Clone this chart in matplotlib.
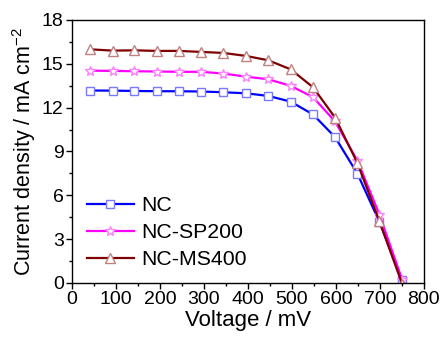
import matplotlib
matplotlib.use('Agg')
import matplotlib.pyplot as plt
from matplotlib.ticker import MultipleLocator

plt.rcParams['font.family'] = ['Liberation Sans', 'DejaVu Sans']
plt.rcParams['mathtext.fontset'] = 'custom'
plt.rcParams['mathtext.rm'] = 'Liberation Sans'
plt.rcParams['mathtext.default'] = 'regular'

voltage = [41, 92, 142, 193, 243, 294, 344, 395, 446, 497, 548, 598, 649, 699, 751]
j_nc = [13.17, 13.16, 13.14, 13.12, 13.12, 13.1, 13.05, 12.98, 12.8, 12.41, 11.53, 9.98, 7.47, 4.17, 0.18]
j_sp200 = [14.53, 14.51, 14.49, 14.47, 14.45, 14.45, 14.33, 14.12, 13.94, 13.49, 12.71, 11.05, 8.36, 4.67, 0.18]
j_ms400 = [15.99, 15.9, 15.92, 15.88, 15.88, 15.81, 15.74, 15.54, 15.24, 14.62, 13.39, 11.32, 8.2, 4.21, -0.1]

series = [
    ('NC', j_nc, '#0000ff', '#7a7aff', 's', 5.5),
    ('NC-SP200', j_sp200, '#ff00ff', '#ff80ff', '*', 7.5),
    ('NC-MS400', j_ms400, '#7f0000', '#c08080', '^', 6.5),
]

fig = plt.figure(figsize=(4.42, 3.38), dpi=100)
ax = fig.add_axes([0.163, 0.163, 0.796, 0.778])

for name, j, c, ec, m, ms in series:
    ax.plot(voltage, j, color=c, lw=1.6, marker=m, ms=ms, mfc='white',
            mec=ec, mew=1.0, label=name)

ax.set_xlim(0, 800)
ax.set_ylim(0, 18)
ax.xaxis.set_major_locator(MultipleLocator(100))
ax.xaxis.set_minor_locator(MultipleLocator(50))
ax.yaxis.set_major_locator(MultipleLocator(3))
ax.yaxis.set_minor_locator(MultipleLocator(1.5))
ax.tick_params(which='both', direction='out', top=False, right=False, labelsize=14)
ax.tick_params(which='major', length=4, width=1, pad=2)
ax.tick_params(which='minor', length=2.5, width=1)
for s in ax.spines.values():
    s.set_linewidth(1.0)

ax.set_xlabel('Voltage / mV', fontsize=16, labelpad=1)
ax.set_ylabel('Current density / mA cm$^{-2}$', fontsize=15.5, labelpad=3)

ax.legend(loc='lower left', bbox_to_anchor=(0.0, -0.005), frameon=False,
          fontsize=15.3, handlelength=2.2, handletextpad=0.35, labelspacing=0.38,
          borderaxespad=0.3)

fig.savefig('out.png', dpi=100)
